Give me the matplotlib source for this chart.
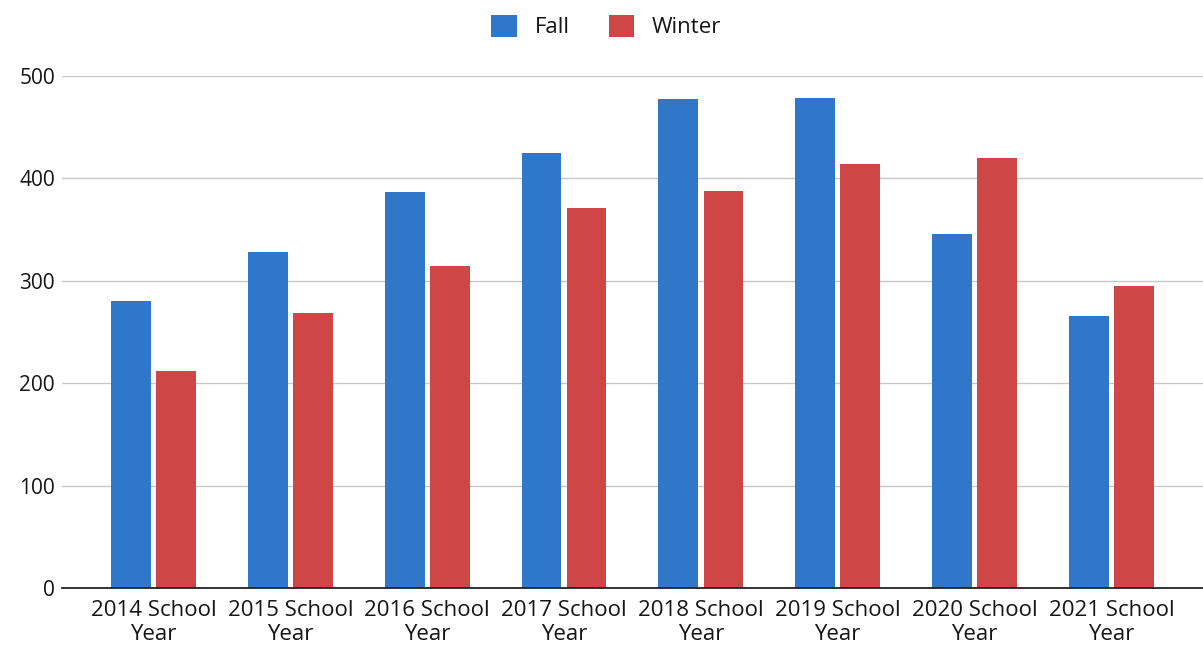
import matplotlib.pyplot as plt
import numpy as np

plt.rcParams['font.family'] = ['Open Sans', 'DejaVu Sans']

years = ["2014", "2015", "2016", "2017", "2018", "2019", "2020", "2021"]
labels = [y + " School\nYear" for y in years]
fall = [280, 328, 387, 425, 477, 478, 346, 266]
winter = [212, 269, 314, 371, 388, 414, 420, 295]

blue = "#2e77c9"
red = "#cf4646"
txt = "#151515"

fig = plt.figure(figsize=(12.03, 6.49), dpi=100)
ax = fig.add_axes([0.0515, 0.094, 0.9485, 0.789])

x = np.arange(len(years))
w = 0.29
off = 0.165
ax.bar(x - off, fall, w, color=blue, label="Fall", zorder=3)
ax.bar(x + off, winter, w, color=red, label="Winter", zorder=3)

ax.set_xlim(-0.67, 7.67)
ax.set_ylim(0, 500)
ax.set_yticks([0, 100, 200, 300, 400, 500])
ax.set_xticks(x)
ax.set_xticklabels(labels, fontsize=16, linespacing=1.15, color=txt)
ax.tick_params(axis='y', length=0, labelsize=15, pad=5, labelcolor=txt)
ax.tick_params(axis='x', length=0, pad=9)
ax.grid(axis='y', color='#c8c8c8', linewidth=1, zorder=0)
for s in ['top', 'right', 'left']:
    ax.spines[s].set_visible(False)
ax.spines['bottom'].set_color('#222222')
ax.spines['bottom'].set_linewidth(1.3)
ax.spines['bottom'].set_zorder(4)

leg = fig.legend(loc='upper center', bbox_to_anchor=(0.504, 1.008), ncol=2, frameon=False,
                 fontsize=16, handlelength=1.15, handleheight=1.15, columnspacing=1.75,
                 handletextpad=0.8)
for t in leg.get_texts():
    t.set_color(txt)

fig.savefig("out.png", dpi=100)
